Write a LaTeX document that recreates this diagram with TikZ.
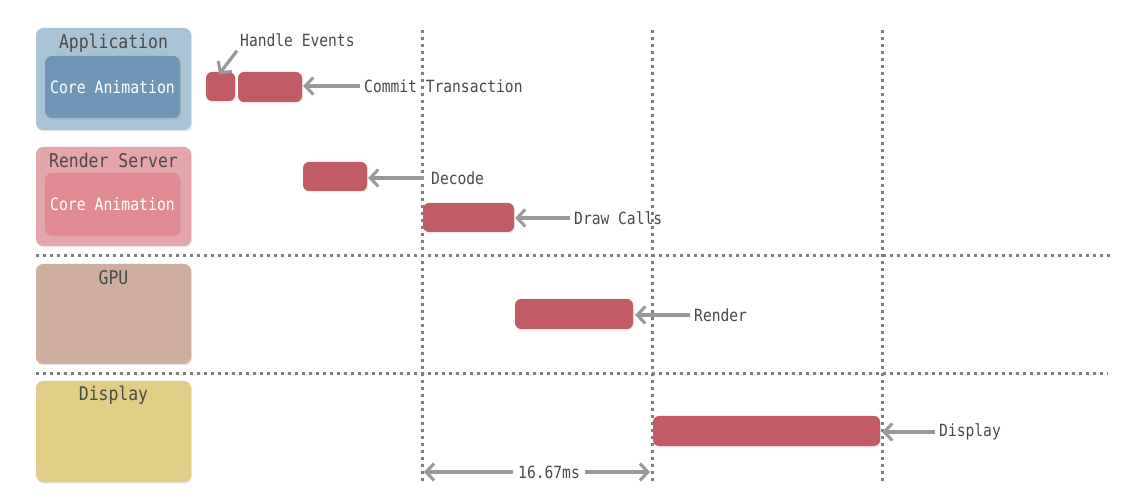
\documentclass[tikz,border=0pt]{standalone}
\usepackage{fontspec}
\setmonofont[FakeStretch=0.87]{DejaVu Sans Mono}
\usetikzlibrary{arrows.meta,shadows}
\definecolor{appOuter}{HTML}{A9C3D6}
\definecolor{appInner}{HTML}{6E97B7}
\definecolor{rsOuter}{HTML}{E4A6AB}
\definecolor{rsInner}{HTML}{E08A91}
\definecolor{gpuC}{HTML}{CDAE9F}
\definecolor{dispC}{HTML}{E2CD87}
\definecolor{barC}{HTML}{C25B65}
\definecolor{arrC}{HTML}{999999}
\definecolor{txtC}{HTML}{4A4A4A}
\definecolor{dotC}{HTML}{7F7F7F}
\begin{document}
\begin{tikzpicture}[x=1pt,y=-1pt,
  lane/.style={draw=none, rounded corners=7pt, minimum width=155pt,
    drop shadow={opacity=0.18, shadow xshift=1pt, shadow yshift=-1.5pt}},
  inner/.style={draw=none, rounded corners=7pt, minimum width=135pt, minimum height=62pt,
    text=white, font=\ttfamily\fontsize{17}{19}\selectfont,
    drop shadow={opacity=0.18, shadow xshift=1pt, shadow yshift=-1.5pt}},
  lanelabel/.style={text=txtC, font=\ttfamily\fontsize{18.9}{21}\selectfont, inner sep=0pt},
  bar/.style={fill=barC, draw=none, rounded corners=6pt, inner sep=0pt,
    drop shadow={opacity=0.15, shadow xshift=1pt, shadow yshift=-1.5pt}},
  lbl/.style={text=txtC, font=\ttfamily\fontsize{16.8}{19}\selectfont, inner sep=2pt, anchor=west},
  arr/.style={draw=arrC, line width=3.2pt, -{Straight Barb[length=8pt,width=17pt,line width=3pt]}},
  guide/.style={draw=dotC, line width=3pt, dash pattern=on 3pt off 4pt}
]
\useasboundingbox (0,0) rectangle (1138,502);
\fill[white] (0,0) rectangle (1138,502);

% guide lines
\draw[guide] (36,256) -- (1112,256);
\draw[guide] (36,374) -- (1108,374);
\draw[guide] (422,30) -- (422,482);
\draw[guide] (652,30) -- (652,482);
\draw[guide] (882,30) -- (882,482);

% lanes
\node[lane, fill=appOuter, minimum height=102pt] (app) at (113.5,79) {};
\node[inner, fill=appInner] (appca) at (112.5,87) {Core Animation};
\node[lanelabel] (applbl) at (113.5,43) {Application};

\node[lane, fill=rsOuter, minimum height=99pt] (rs) at (113.5,196.5) {};
\node[inner, fill=rsInner] (rsca) at (112.5,204) {Core Animation};
\node[lanelabel] (rslbl) at (113.5,160) {Render Server};

\node[lane, fill=gpuC, minimum height=100pt] (gpu) at (113.5,314) {};
\node[lanelabel] (gpulbl) at (113.5,278) {GPU};

\node[lane, fill=dispC, minimum height=101pt] (disp) at (113.5,431.5) {};
\node[lanelabel] (displbl) at (113.5,395) {Display};

% bars
\node[bar, minimum width=29pt, minimum height=29pt] (hand) at (220.5,86.5) {};
\node[bar, minimum width=64pt, minimum height=30pt] (commit) at (270,87) {};
\node[bar, minimum width=64pt, minimum height=29pt] (decode) at (335,176.5) {};
\node[bar, minimum width=91pt, minimum height=29pt] (drawc) at (468.5,217.5) {};
\node[bar, minimum width=118pt, minimum height=30pt] (render) at (574,314) {};
\node[bar, minimum width=227pt, minimum height=30pt] (dispbar) at (766.5,431) {};

% labels
\node[lbl] (lhand) at (238,40) {Handle Events};
\node[lbl] (lcommit) at (362,86) {Commit Transaction};
\node[lbl] (ldecode) at (429,178) {Decode};
\node[lbl] (ldraw) at (572,218) {Draw Calls};
\node[lbl] (lrender) at (692,315) {Render};
\node[lbl] (ldisp) at (937,432) {Display};
\node[lbl, anchor=center] (lms) at (549,472) {16.67ms};

% arrows
\draw[arr] ([xshift=-1pt,yshift=-2pt]lhand.south west) -- ([xshift=-1.5pt,yshift=-2.5pt]hand.north);
\draw[arr] ([xshift=-2pt]lcommit.west) -- ([xshift=1pt]lcommit.west -| commit.east);
\draw[arr] ([xshift=-5pt]ldecode.west) -- ([xshift=1pt]ldecode.west -| decode.east);
\draw[arr] ([xshift=-2pt]ldraw.west) -- ([xshift=1pt]ldraw.west -| drawc.east);
\draw[arr] ([xshift=-2pt]lrender.west) -- ([xshift=2pt]lrender.west -| render.east);
\draw[arr] ([xshift=-2pt]ldisp.west) -- ([xshift=2pt]ldisp.west -| dispbar.east);
\coordinate (t1) at (424,472);
\coordinate (t2) at (650,472);
\draw[arr] ([xshift=-3pt]lms.west) -- (t1);
\draw[arr] ([xshift=3pt]lms.east) -- (t2);
\end{tikzpicture}
\end{document}
